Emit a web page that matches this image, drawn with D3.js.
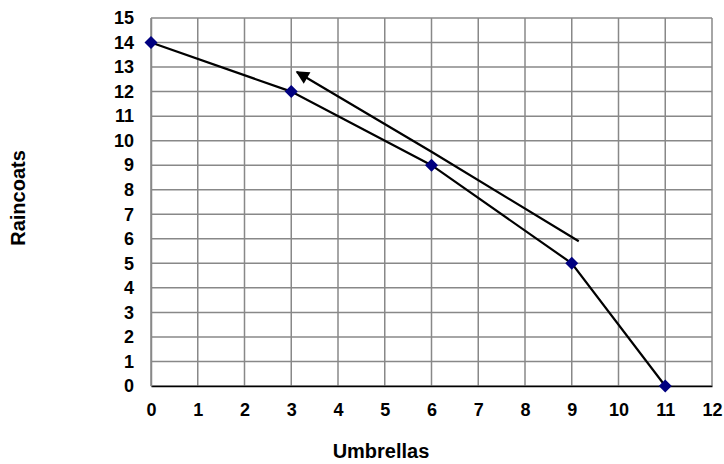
<!DOCTYPE html>
<html>
<head>
  <script src="https://cdn.jsdelivr.net/npm/d3@7"></script>
  <style>
    body { margin: 0; background: #fff; }
    text { font-family: "Liberation Sans", Arial, sans-serif; font-weight: bold; }
  </style>
</head>
<body>
  <svg width="724" height="464" id="mainsvg"></svg>
  <script>
    const umbrellas = [0, 3, 6, 9, 11];
    const raincoats = [14, 12, 9, 5, 0];
    const arrowX = [9.15, 6, 3.12];
    const arrowY = [5.9, 9.55, 12.8];
    const xTicks = d3.range(0, 13);
    const yTicks = d3.range(0, 16);

    const svg = d3.select('#mainsvg');
    const margin = { top: 18, right: 12, bottom: 78, left: 151 };
    const innerWidth = 724 - margin.left - margin.right;
    const innerHeight = 464 - margin.top - margin.bottom;
    const g = svg.append('g').attr('transform', `translate(${margin.left}, ${margin.top})`);

    const xScale = d3.scaleLinear().domain([0, 12]).range([0, innerWidth]);
    const yScale = d3.scaleLinear().domain([0, 15]).range([innerHeight, 0]);

    // grid
    g.append('g').selectAll('line').data(xTicks).join('line')
      .attr('x1', d => xScale(d)).attr('x2', d => xScale(d))
      .attr('y1', 0).attr('y2', innerHeight)
      .attr('stroke', '#888').attr('stroke-width', 1.5);
    g.append('g').selectAll('line').data(yTicks).join('line')
      .attr('y1', d => yScale(d)).attr('y2', d => yScale(d))
      .attr('x1', 0).attr('x2', innerWidth)
      .attr('stroke', '#888').attr('stroke-width', 1.5);

    // axes
    const xAxis = d3.axisBottom(xScale).tickValues(xTicks).tickSize(0).tickPadding(17);
    const xg = g.append('g').attr('transform', `translate(0, ${innerHeight})`).call(xAxis);
    xg.select('.domain').attr('stroke', '#000').attr('stroke-width', 1.5);
    xg.selectAll('text').style('font-size', '18px').attr('fill', '#000');

    const yAxis = d3.axisLeft(yScale).tickValues(yTicks).tickSize(0).tickPadding(17);
    const yg = g.append('g').call(yAxis);
    yg.select('.domain').attr('stroke', '#888').attr('stroke-width', 1.5);
    yg.selectAll('text').style('font-size', '18px').attr('fill', '#000');

    // curve
    const pts = umbrellas.map((u, i) => [u, raincoats[i]]);
    const line = d3.line().x(d => xScale(d[0])).y(d => yScale(d[1]));
    g.append('path').datum(pts)
      .attr('fill', 'none').attr('stroke', '#000').attr('stroke-width', 2.2)
      .attr('d', line);

    // arrow
    svg.append('defs').append('marker')
      .attr('id', 'head').attr('viewBox', '0 0 10 10')
      .attr('refX', 9).attr('refY', 5)
      .attr('markerWidth', 7).attr('markerHeight', 6)
      .attr('markerUnits', 'strokeWidth')
      .attr('orient', 'auto')
      .append('path').attr('d', 'M0,0 L10,5 L0,10 z').attr('fill', '#000');
    const arrowPts = arrowX.map((x, i) => [x, arrowY[i]]);
    g.append('path').datum(arrowPts)
      .attr('fill', 'none').attr('stroke', '#000').attr('stroke-width', 2.2)
      .attr('marker-end', 'url(#head)')
      .attr('d', d3.line().x(d => xScale(d[0])).y(d => yScale(d[1])).curve(d3.curveNatural));

    // markers
    g.selectAll('.pt').data(pts).join('path')
      .attr('class', 'pt')
      .attr('transform', d => `translate(${xScale(d[0])}, ${yScale(d[1])})`)
      .attr('d', 'M0,-6.5 L6.5,0 L0,6.5 L-6.5,0 Z')
      .attr('fill', '#000080');

    // axis titles
    svg.append('text').attr('x', 381).attr('y', 458)
      .attr('text-anchor', 'middle').style('font-size', '20px').text('Umbrellas');
    svg.append('text').attr('transform', 'translate(25, 198) rotate(-90)')
      .attr('text-anchor', 'middle').style('font-size', '20px').text('Raincoats');
  </script>
</body>
</html>
